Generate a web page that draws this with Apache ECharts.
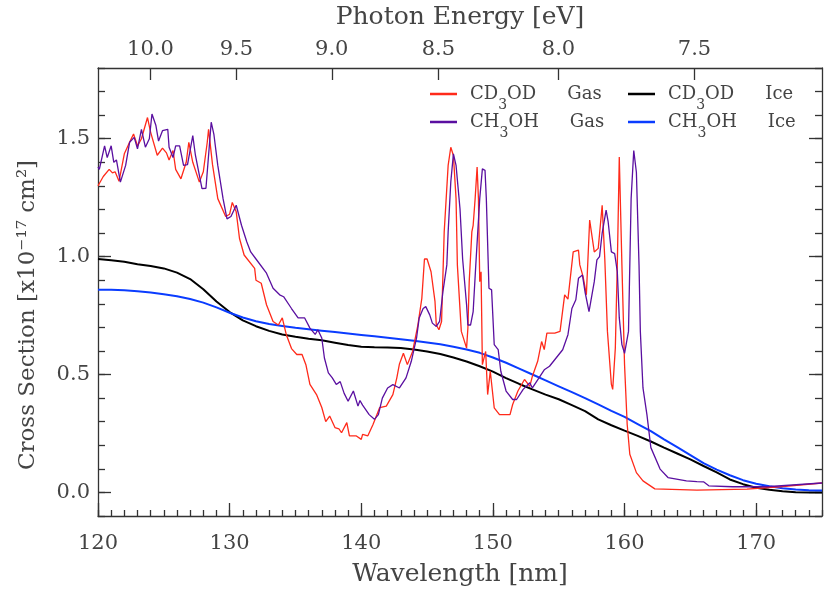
<!DOCTYPE html>
<html>
<head>
<meta charset="utf-8">
<script src="https://cdn.jsdelivr.net/npm/echarts@6/dist/echarts.min.js"></script>
<style>
html,body{margin:0;padding:0;background:#fff;}
#chart{width:830px;height:593px;}
</style>
</head>
<body>
<div id="chart"></div>
<script>
// ---- tick labels ----
const wavelengthTicks = [120, 130, 140, 150, 160, 170];
const crossSectionTicks = [0.0, 0.5, 1.0, 1.5];
const photonEnergyTicks = [10.0, 9.5, 9.0, 8.5, 8.0, 7.5];
const HC = 1239.84; // eV nm

// ---- series names ----
const seriesNames = ['CD₃OD Gas', 'CH₃OH Gas', 'CD₃OD Ice', 'CH₃OH Ice'];

// ---- ice spectra (1 nm grid) ----
const iceWavelength = [120,121,122,123,124,125,126,127,128,129,130,131,132,133,134,135,136,137,138,139,140,141,142,143,144,145,146,147,148,149,150,151,152,153,154,155,156,157,158,159,160,161,162,163,164,165,166,167,168,169,170,171,172,173,174,175];
const cd3odIce = [0.99,0.985,0.978,0.968,0.96,0.95,0.932,0.905,0.862,0.81,0.765,0.73,0.705,0.685,0.67,0.66,0.652,0.645,0.635,0.625,0.618,0.616,0.615,0.612,0.606,0.598,0.587,0.572,0.555,0.535,0.512,0.485,0.46,0.437,0.415,0.395,0.37,0.345,0.31,0.285,0.262,0.24,0.216,0.19,0.165,0.14,0.112,0.085,0.055,0.035,0.02,0.011,0.005,0.001,0.0,0.0];
const ch3ohIce = [0.86,0.86,0.857,0.853,0.848,0.84,0.832,0.82,0.805,0.785,0.762,0.742,0.726,0.714,0.706,0.698,0.692,0.686,0.68,0.674,0.668,0.662,0.656,0.65,0.643,0.636,0.628,0.618,0.606,0.592,0.572,0.55,0.525,0.5,0.475,0.45,0.425,0.4,0.373,0.346,0.32,0.29,0.26,0.225,0.192,0.158,0.124,0.097,0.073,0.052,0.037,0.026,0.018,0.012,0.009,0.008];

// ---- CD3OD gas ----
const cd3odGasWl = [120.0,120.1,120.4,120.85,121.1,121.3,121.6,122.0,122.4,122.7,123.0,123.3,123.76,124.0,124.5,124.9,125.2,125.4,125.7,125.9,126.3,126.7,126.9,127.2,127.7,128.0,128.3,128.4,128.7,129.1,129.7,130.0,130.2,130.5,130.75,131.1,131.9,132.0,132.4,132.8,133.3,133.7,134.0,134.3,134.7,135.1,135.5,135.8,136.1,136.6,137.0,137.3,137.6,138.0,138.3,138.5,138.9,139.1,139.6,140.0,140.1,140.5,140.9,141.4,141.9,142.4,142.7,142.9,143.2,143.5,143.9,144.3,144.6,144.8,145.0,145.3,145.6,145.7,145.9,146.1,146.3,146.6,146.8,147.0,147.2,147.3,147.6,148.0,148.1,148.2,148.4,148.5,148.65,148.8,148.9,149.0,149.1,149.2,149.45,149.6,149.8,150.1,150.5,151.3,151.5,151.9,152.4,152.8,153.0,153.4,153.7,153.9,154.1,154.7,155.1,155.45,155.7,156.1,156.5,156.6,156.85,157.1,157.35,157.7,158.0,158.3,158.5,158.7,159.0,159.1,159.3,159.45,159.6,159.8,160.0,160.2,160.4,160.9,161.4,162.3,165.5,169.3,171.8,175.0];
const cd3odGas = [1.30,1.31,1.34,1.37,1.355,1.36,1.32,1.436,1.485,1.52,1.47,1.50,1.59,1.527,1.43,1.46,1.44,1.41,1.45,1.37,1.33,1.40,1.485,1.40,1.316,1.36,1.485,1.54,1.39,1.246,1.17,1.18,1.23,1.19,1.077,1.007,0.95,0.90,0.887,0.796,0.725,0.71,0.74,0.67,0.61,0.585,0.585,0.54,0.458,0.415,0.36,0.30,0.324,0.275,0.27,0.253,0.296,0.24,0.24,0.225,0.246,0.24,0.289,0.36,0.366,0.415,0.486,0.545,0.59,0.542,0.598,0.71,0.823,0.99,0.99,0.936,0.81,0.71,0.69,0.725,1.105,1.387,1.464,1.429,1.246,0.965,0.683,0.612,0.697,0.894,1.105,1.133,1.246,1.38,1.246,0.894,0.936,0.542,0.598,0.415,0.514,0.359,0.33,0.33,0.373,0.43,0.479,0.45,0.493,0.556,0.64,0.606,0.676,0.676,0.683,0.838,0.82,1.02,1.028,0.965,0.915,0.838,1.155,1.02,1.035,1.218,0.99,0.683,0.458,0.437,0.612,0.965,1.422,0.965,0.542,0.289,0.162,0.084,0.049,0.015,0.01,0.014,0.024,0.04];

// ---- CH3OH gas ----
const ch3ohGasWl = [120.0,120.1,120.5,120.7,121.0,121.2,121.4,121.7,122.1,122.4,122.75,123.0,123.3,123.6,123.9,124.1,124.4,124.6,124.9,125.3,125.4,125.7,125.9,126.2,126.5,126.8,127.2,127.4,127.9,128.2,128.6,128.8,129.1,129.5,129.8,130.1,130.5,130.9,131.3,131.6,132.0,132.8,133.3,133.8,134.1,134.7,135.2,135.7,136.1,136.5,136.7,137.0,137.2,137.5,137.8,138.1,138.4,138.7,139.0,139.4,139.75,139.9,140.1,140.6,141.0,141.3,141.6,142.0,142.4,142.9,143.4,143.8,144.2,144.4,144.7,144.9,145.2,145.4,145.7,145.95,146.2,146.5,146.6,146.8,147.0,147.2,147.5,147.7,148.0,148.1,148.3,148.5,148.7,149.0,149.2,149.4,149.5,149.7,149.9,150.1,150.4,150.6,151.0,151.5,151.8,152.3,152.8,153.0,153.5,153.9,154.3,154.8,155.3,155.7,156.0,156.3,156.5,156.8,157.0,157.3,157.7,157.9,158.1,158.3,158.6,158.75,159.0,159.25,159.45,159.6,159.8,160.0,160.3,160.5,160.7,160.9,161.1,161.2,161.4,161.7,162.0,162.7,163.3,164.7,165.5,166.0,166.4,168.2,170.8,175.0];
const ch3ohGas = [1.38,1.37,1.47,1.42,1.47,1.40,1.41,1.316,1.387,1.485,1.506,1.457,1.54,1.464,1.50,1.605,1.556,1.49,1.534,1.54,1.464,1.42,1.47,1.47,1.387,1.39,1.513,1.43,1.288,1.29,1.57,1.52,1.387,1.246,1.16,1.17,1.218,1.133,1.063,1.02,0.99,0.93,0.866,0.838,0.83,0.78,0.74,0.74,0.697,0.67,0.69,0.655,0.57,0.507,0.486,0.458,0.47,0.42,0.387,0.43,0.366,0.39,0.37,0.33,0.31,0.33,0.40,0.443,0.457,0.443,0.486,0.556,0.655,0.74,0.78,0.788,0.753,0.718,0.704,0.725,0.85,0.965,1.105,1.316,1.436,1.387,1.203,0.99,0.796,0.71,0.71,0.767,0.965,1.246,1.372,1.366,1.246,0.866,0.859,0.627,0.606,0.514,0.43,0.394,0.394,0.437,0.465,0.443,0.486,0.52,0.535,0.57,0.605,0.669,0.78,0.817,0.908,0.922,0.85,0.767,0.894,0.986,1.0,1.1,1.197,1.15,1.02,1.013,0.936,0.74,0.627,0.59,0.683,1.246,1.45,1.358,0.965,0.683,0.443,0.33,0.19,0.099,0.063,0.049,0.046,0.045,0.028,0.024,0.024,0.04];

const zip = (xs, ys) => xs.map((x, i) => [x, ys[i]]);

const FONT = 'DejaVu Serif';
const TXT = '#444';
const AX = '#333';
const colors = ['#ff2a1a', '#5a0fa0', '#000000', '#0a3cff'];

const chart = echarts.init(document.getElementById('chart'), null, {renderer: 'canvas'});

const baseX = {type: 'value', min: 120, max: 175, splitLine: {show: false}};
const baseY = {type: 'value', min: -0.1, max: 1.8, splitLine: {show: false}};
const lineStyleAx = {color: AX, width: 1.3};

// legend label: subscript digit and wide word gap
const legendFormatter = name => {
  const parts = name.split('₃');
  const rest = parts[1].split(' ');
  return `{f|${parts[0]}}{s|3}{t|${rest[0]}}{g| }{t|${rest[1]}}`;
};
const legendRich = {
  f: {fontFamily: FONT, fontSize: 18, color: TXT, lineHeight: 18, verticalAlign: 'top', padding: [0, 0, 34, 8]},
  t: {fontFamily: FONT, fontSize: 18, color: TXT, lineHeight: 18, verticalAlign: 'top', padding: [0, 0, 34, 0]},
  s: {fontFamily: FONT, fontSize: 14, color: TXT, lineHeight: 14, verticalAlign: 'top', padding: [13, 0, 0, 0]},
  g: {fontFamily: FONT, fontSize: 18, color: TXT, lineHeight: 18, verticalAlign: 'top', width: 31}
};
const legendBase = {
  orient: 'vertical', top: 85, padding: 0,
  itemWidth: 27, itemHeight: 2.5, itemGap: -24,
  icon: 'rect',
  formatter: legendFormatter,
  textStyle: {fontFamily: FONT, fontSize: 18, color: TXT, rich: legendRich}
};

const option = {
  animation: false,
  backgroundColor: '#fff',
  grid: {left: 98, right: 8, top: 65, bottom: 77, containLabel: false},
  legend: [
    Object.assign({}, legendBase, {data: [seriesNames[0], seriesNames[1]], left: 430}),
    Object.assign({}, legendBase, {data: [seriesNames[2], seriesNames[3]], left: 628})
  ],
  xAxis: [
    Object.assign({}, baseX, {
      position: 'bottom', interval: 1,
      axisLine: {show: true, onZero: false, lineStyle: lineStyleAx},
      axisTick: {show: true, inside: true, length: 6, lineStyle: lineStyleAx},
      axisLabel: {show: false}
    }),
    Object.assign({}, baseX, {
      position: 'bottom',
      axisLine: {show: false, onZero: false},
      axisTick: {show: true, inside: true, length: 13, lineStyle: lineStyleAx, customValues: wavelengthTicks},
      axisLabel: {show: true, customValues: wavelengthTicks, margin: 17, fontFamily: FONT, fontSize: 21, color: TXT},
      name: 'Wavelength [nm]', nameLocation: 'middle', nameGap: 46,
      nameTextStyle: {fontFamily: FONT, fontSize: 25, color: TXT}
    }),
    Object.assign({}, baseX, {
      position: 'top',
      axisLine: {show: true, onZero: false, lineStyle: lineStyleAx},
      axisTick: {show: true, inside: true, length: 12, lineStyle: lineStyleAx,
        customValues: photonEnergyTicks.map(e => HC / e)},
      axisLabel: {show: true, customValues: photonEnergyTicks.map(e => HC / e), margin: 8,
        fontFamily: FONT, fontSize: 21, color: TXT,
        formatter: v => (HC / v).toFixed(1)},
      name: 'Photon Energy [eV]', nameLocation: 'middle', nameGap: 38,
      nameTextStyle: {fontFamily: FONT, fontSize: 25, color: TXT}
    })
  ],
  yAxis: [
    Object.assign({}, baseY, {
      position: 'left', interval: 0.1,
      axisLine: {show: true, onZero: false, lineStyle: lineStyleAx},
      axisTick: {show: true, inside: true, length: 7, lineStyle: lineStyleAx},
      axisLabel: {show: false}
    }),
    Object.assign({}, baseY, {
      position: 'left',
      axisLine: {show: false, onZero: false},
      axisTick: {show: true, inside: true, length: 13, lineStyle: lineStyleAx, customValues: crossSectionTicks},
      axisLabel: {show: true, customValues: crossSectionTicks, margin: 8, fontFamily: FONT, fontSize: 21, color: TXT,
        formatter: v => v.toFixed(1)},
      name: 'Cross Section [x10⁻¹⁷ cm²]', nameLocation: 'middle', nameGap: 58, nameRotate: 90,
      nameTextStyle: {fontFamily: FONT, fontSize: 23, color: TXT, padding: [0, 46, 0, 0]}
    }),
    Object.assign({}, baseY, {
      position: 'right', interval: 0.1,
      axisLine: {show: true, onZero: false, lineStyle: lineStyleAx},
      axisTick: {show: true, inside: true, length: 7, lineStyle: lineStyleAx},
      axisLabel: {show: false}
    }),
    Object.assign({}, baseY, {
      position: 'right',
      axisLine: {show: false, onZero: false},
      axisTick: {show: true, inside: true, length: 13, lineStyle: lineStyleAx, customValues: crossSectionTicks},
      axisLabel: {show: false}
    })
  ],
  series: [
    {name: seriesNames[2], type: 'line', xAxisIndex: 0, yAxisIndex: 0, showSymbol: false, symbol: 'none',
      data: zip(iceWavelength, cd3odIce), lineStyle: {color: colors[2], width: 2}, itemStyle: {color: colors[2]}, z: 2},
    {name: seriesNames[3], type: 'line', xAxisIndex: 0, yAxisIndex: 0, showSymbol: false, symbol: 'none',
      data: zip(iceWavelength, ch3ohIce), lineStyle: {color: colors[3], width: 2}, itemStyle: {color: colors[3]}, z: 2},
    {name: seriesNames[0], type: 'line', xAxisIndex: 0, yAxisIndex: 0, showSymbol: false, symbol: 'none',
      data: zip(cd3odGasWl, cd3odGas), lineStyle: {color: colors[0], width: 1.3}, itemStyle: {color: colors[0]}, z: 3},
    {name: seriesNames[1], type: 'line', xAxisIndex: 0, yAxisIndex: 0, showSymbol: false, symbol: 'none',
      data: zip(ch3ohGasWl, ch3ohGas), lineStyle: {color: colors[1], width: 1.3}, itemStyle: {color: colors[1]}, z: 3}
  ]
};
chart.setOption(option);
</script>
</body>
</html>
